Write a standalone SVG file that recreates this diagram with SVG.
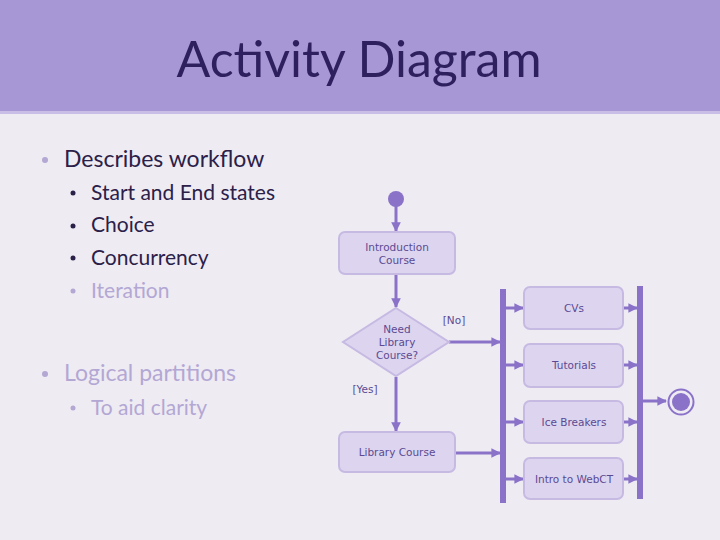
<svg xmlns="http://www.w3.org/2000/svg" width="720" height="540" viewBox="0 0 720 540">
<style>
.bul{font-family:Lato,"Open Sans",sans-serif;font-size:21px;fill:#2B2048}
.big{font-size:23px}
.lt{fill:#B3A7D3}
.nd{fill:#DDD5EF;stroke:#C6BAE3;stroke-width:2}
.nt{font-family:"DejaVu Sans",sans-serif;font-size:10.5px;fill:#5B4A93;text-anchor:middle}
.ln{stroke:#8A72C8;stroke-width:3;fill:none}
.bar{fill:#8A72C8}
</style>
<defs>
<marker id="ah" viewBox="0 0 10 10" refX="9" refY="5" markerWidth="3.2" markerHeight="3.2" orient="auto" markerUnits="strokeWidth">
<path d="M0,0 L10,5 L0,10 z" fill="#8A72C8"/>
</marker>
</defs>
<rect width="720" height="540" fill="#EEEBF3"/>
<rect width="720" height="113" fill="#A897D5"/>
<rect y="111" width="720" height="3" fill="#C9BEE6"/>
<text x="359" y="77" font-family="Lato,'Open Sans',sans-serif" font-size="50" fill="#2E1F5E" text-anchor="middle">Activity Diagram</text>

<g id="bullets">
<circle cx="45" cy="160" r="3" fill="#B3A7D3"/>
<text class="bul big" x="64" y="167">Describes workflow</text>
<circle cx="73" cy="193" r="2.5" fill="#2B2048"/>
<text class="bul" x="91" y="200">Start and End states</text>
<circle cx="73" cy="226" r="2.5" fill="#2B2048"/>
<text class="bul" x="91" y="232">Choice</text>
<circle cx="73" cy="258" r="2.5" fill="#2B2048"/>
<text class="bul" x="91" y="265">Concurrency</text>
<circle cx="73" cy="291" r="2.5" fill="#B3A7D3"/>
<text class="bul lt" x="91" y="298">Iteration</text>
<circle cx="45" cy="374" r="3" fill="#B3A7D3"/>
<text class="bul big lt" x="64" y="381">Logical partitions</text>
<circle cx="73" cy="408" r="2.5" fill="#B3A7D3"/>
<text class="bul lt" x="91" y="415">To aid clarity</text>
</g>

<g id="connectors">
<line class="ln" x1="396" y1="205" x2="396" y2="231" marker-end="url(#ah)"/>
<line class="ln" x1="396" y1="275" x2="396" y2="307" marker-end="url(#ah)"/>
<line class="ln" x1="449" y1="342" x2="500" y2="342" marker-end="url(#ah)"/>
<line class="ln" x1="396" y1="377" x2="396" y2="431" marker-end="url(#ah)"/>
<line class="ln" x1="456" y1="453" x2="500" y2="453" marker-end="url(#ah)"/>
<line class="ln" x1="506" y1="308" x2="523" y2="308" marker-end="url(#ah)"/>
<line class="ln" x1="506" y1="365" x2="523" y2="365" marker-end="url(#ah)"/>
<line class="ln" x1="506" y1="422" x2="523" y2="422" marker-end="url(#ah)"/>
<line class="ln" x1="506" y1="479" x2="523" y2="479" marker-end="url(#ah)"/>
<line class="ln" x1="624" y1="308" x2="637" y2="308" marker-end="url(#ah)"/>
<line class="ln" x1="624" y1="365" x2="637" y2="365" marker-end="url(#ah)"/>
<line class="ln" x1="624" y1="422" x2="637" y2="422" marker-end="url(#ah)"/>
<line class="ln" x1="624" y1="479" x2="637" y2="479" marker-end="url(#ah)"/>
<line class="ln" x1="643" y1="401" x2="666" y2="401" marker-end="url(#ah)"/>
<text class="nt" x="454" y="324" text-anchor="middle">[No]</text>
<text class="nt" x="365" y="393">[Yes]</text>
</g>

<g id="start"><circle cx="396" cy="199" r="8" fill="#8A72C8"/></g>

<g id="intro">
<rect class="nd" x="339" y="232" width="116" height="42" rx="6"/>
<text class="nt" x="397" y="251">Introduction</text>
<text class="nt" x="397" y="264">Course</text>
</g>

<g id="decision">
<polygon class="nd" points="396,308 449,342 396,376 343,342"/>
<text class="nt" x="397" y="333">Need</text>
<text class="nt" x="397" y="346">Library</text>
<text class="nt" x="397" y="359">Course?</text>
</g>

<g id="library">
<rect class="nd" x="339" y="432" width="116" height="40" rx="6"/>
<text class="nt" x="397" y="456">Library Course</text>
</g>

<g id="fork"><rect class="bar" x="500" y="289" width="6" height="214"/></g>

<g id="cvs">
<rect class="nd" x="524" y="287" width="99" height="42" rx="6"/>
<text class="nt" x="574" y="312">CVs</text>
</g>
<g id="tutorials">
<rect class="nd" x="524" y="344" width="99" height="43" rx="6"/>
<text class="nt" x="574" y="369">Tutorials</text>
</g>
<g id="icebreakers">
<rect class="nd" x="524" y="401" width="99" height="42" rx="6"/>
<text class="nt" x="574" y="426">Ice Breakers</text>
</g>
<g id="webct">
<rect class="nd" x="524" y="458" width="99" height="41" rx="6"/>
<text class="nt" x="574" y="483">Intro to WebCT</text>
</g>

<g id="join"><rect class="bar" x="637" y="286" width="6" height="213"/></g>

<g id="end">
<circle cx="681" cy="402" r="12.5" fill="none" stroke="#8A72C8" stroke-width="2"/>
<circle cx="681" cy="402" r="9" fill="#8A72C8"/>
</g>
</svg>
